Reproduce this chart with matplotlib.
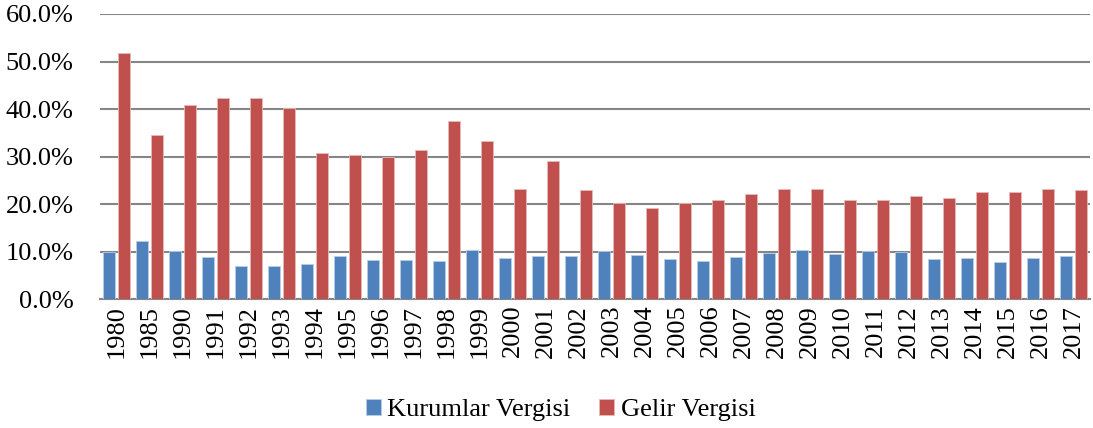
import matplotlib
matplotlib.use("Agg")
import matplotlib.pyplot as plt
import numpy as np
from matplotlib.ticker import FuncFormatter

years = ["1980", "1985", "1990", "1991", "1992", "1993", "1994", "1995", "1996", "1997",
         "1998", "1999", "2000", "2001", "2002", "2003", "2004", "2005", "2006", "2007",
         "2008", "2009", "2010", "2011", "2012", "2013", "2014", "2015", "2016", "2017"]
kurumlar = [10.0, 12.2, 10.1, 8.8, 6.9, 7.1, 7.4, 9.2, 8.2, 8.2,
            8.0, 10.3, 8.7, 9.1, 9.2, 10.1, 9.3, 8.5, 8.0, 9.0,
            9.7, 10.4, 9.6, 10.2, 10.0, 8.4, 8.6, 7.8, 8.7, 9.1]
gelir = [51.7, 34.5, 40.9, 42.3, 42.3, 40.2, 30.7, 30.3, 30.0, 31.5,
         37.6, 33.2, 23.2, 29.0, 22.9, 20.2, 19.3, 20.2, 20.9, 22.1,
         23.3, 23.3, 20.8, 20.9, 21.8, 21.2, 22.5, 22.5, 23.2, 22.9]
series_names = ["Kurumlar Vergisi", "Gelir Vergisi"]
yticks = [0, 10, 20, 30, 40, 50, 60]

plt.rcParams['font.family'] = ['Liberation Serif', 'DejaVu Serif']

fig = plt.figure(figsize=(10.93, 4.28), dpi=100)
ax = fig.add_axes([100/1093, 1 - 299.3/428, 990/1093, (299.3-14)/428])

x = np.arange(len(years))
w = 0.37
off = 0.22
ax.bar(x - off, kurumlar, w, color="#4F81BD", edgecolor="#B9CDE5", linewidth=0.6,
       label=series_names[0], zorder=3)
ax.bar(x + off, gelir, w, color="#C0504D", edgecolor="#E6B9B8", linewidth=0.6,
       label=series_names[1], zorder=3)

ax.set_xlim(-0.5, len(years) - 0.5)
ax.set_ylim(0, 60)
ax.set_yticks(yticks)
ax.yaxis.set_major_formatter(FuncFormatter(lambda v, p: f"{v:.1f}%"))
ax.set_xticks(x)
ax.set_xticklabels(years, rotation=90)
ax.tick_params(axis='both', labelsize=19, length=0, colors="black")
ax.tick_params(axis='y', pad=19)
ax.tick_params(axis='x', pad=4)
ax.grid(axis='y', color="#868686", linewidth=1.5, zorder=0)
for s in ["top", "right", "left"]:
    ax.spines[s].set_visible(False)
ax.spines["bottom"].set_color("#868686")
ax.spines["bottom"].set_linewidth(1.5)

fig.legend(loc="center", bbox_to_anchor=(0.513, 1 - 410/428), ncol=2, frameon=False,
           fontsize=19, handlelength=0.55, handleheight=0.55, handletextpad=0.25,
           columnspacing=1.1)

fig.savefig("out.png", dpi=100)
